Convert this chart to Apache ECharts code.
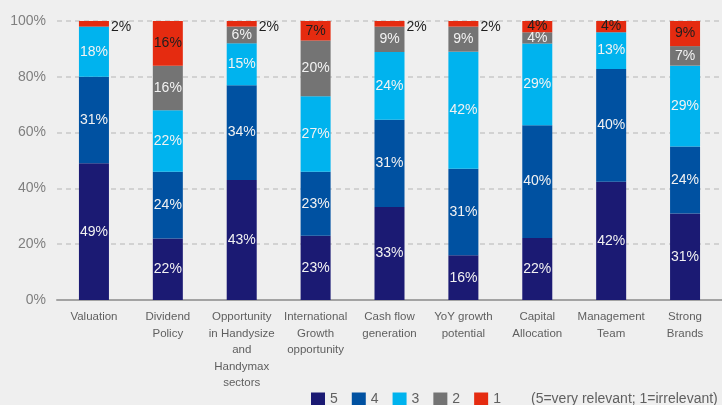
<!DOCTYPE html>
<html>
<head>
<meta charset="utf-8">
<script src="https://cdn.jsdelivr.net/npm/echarts@6/dist/echarts.min.js"></script>
<style>
  html, body { margin: 0; padding: 0; background: #efefef; }
  #chart { width: 722px; height: 405px; }
</style>
</head>
<body>
<div id="chart"></div>
<script>
// Survey factors (x axis)
const categories = [
  'Valuation',
  'Dividend\nPolicy',
  'Opportunity\nin Handysize\nand\nHandymax\nsectors',
  'International\nGrowth\nopportunity',
  'Cash flow\ngeneration',
  'YoY growth\npotential',
  'Capital\nAllocation',
  'Management\nTeam',
  'Strong\nBrands'
];

// Share of respondents per relevance score (%, rounded)
const score5 = [49, 22, 43, 23, 33, 16, 22, 42, 31];
const score4 = [31, 24, 34, 23, 31, 31, 40, 40, 24];
const score3 = [18, 22, 15, 27, 24, 42, 29, 13, 29];
const score2 = [0, 16, 6, 20, 9, 9, 4, 0, 7];
const score1 = [2, 16, 2, 7, 2, 2, 4, 4, 9];

const yTicks = [0, 20, 40, 60, 80, 100];
const legendNote = '(5=very relevant; 1=irrelevant)';

const seriesDefs = [
  { name: '5', values: score5, color: '#1b1a73', text: '#f2f2f2' },
  { name: '4', values: score4, color: '#0051a1', text: '#f2f2f2' },
  { name: '3', values: score3, color: '#00b3ee', text: '#f2f2f2' },
  { name: '2', values: score2, color: '#747474', text: '#f2f2f2' },
  { name: '1', values: score1, color: '#e52b10', text: '#1e1e1e' }
];

// 100% stacked: each column is scaled by its own total
const totals = categories.map((_, i) =>
  seriesDefs.reduce((s, d) => s + d.values[i], 0));

const series = seriesDefs.map(def => ({
  name: def.name,
  type: 'bar',
  stack: 'total',
  barWidth: 30,
  itemStyle: { color: def.color },
  data: def.values.map((v, i) => {
    const item = { value: v / totals[i] * 100, raw: v };
    if (v <= 2) {
      // thin slices get their label beside the bar
      item.label = {
        show: v > 0,
        position: 'right',
        distance: 2,
        offset: [0, 3],
        color: '#1e1e1e'
      };
    }
    return item;
  }),
  label: {
    show: true,
    position: 'inside',
    color: def.text,
    fontSize: 14,
    fontFamily: 'Liberation Sans, Arial, sans-serif',
    formatter: p => (p.data.raw > 0 ? p.data.raw + '%' : '')
  },
  emphasis: { disabled: true }
}));

const chart = echarts.init(document.getElementById('chart'), null, { renderer: 'canvas' });
chart.setOption({
  backgroundColor: '#efefef',
  animation: false,
  grid: { left: 57, right: -6, top: 21, bottom: 105, containLabel: false },
  xAxis: {
    type: 'category',
    data: categories,
    axisTick: { show: false },
    axisLine: { lineStyle: { color: '#a3a3a3', width: 2 } },
    axisLabel: {
      color: '#5f5f5f',
      fontSize: 11.5,
      lineHeight: 16.5,
      margin: 9,
      interval: 0,
      fontFamily: 'Liberation Sans, Arial, sans-serif'
    }
  },
  yAxis: {
    type: 'value',
    min: yTicks[0],
    max: yTicks[yTicks.length - 1],
    interval: yTicks[1] - yTicks[0],
    axisLine: { show: false },
    axisTick: { show: false },
    axisLabel: {
      color: '#7f7f7f',
      fontSize: 14,
      margin: 11,
      fontFamily: 'Liberation Sans, Arial, sans-serif',
      formatter: '{value}%'
    },
    splitLine: {
      lineStyle: { color: '#c9c9c9', type: [5, 4], width: 1.5 }
    }
  },
  legend: {
    data: seriesDefs.map(d => d.name),
    left: 311,
    top: 392,
    itemWidth: 14,
    itemHeight: 13,
    itemGap: 14,
    icon: 'rect',
    textStyle: {
      color: '#606060',
      fontSize: 14,
      fontFamily: 'Liberation Sans, Arial, sans-serif',
      padding: [0, 0, 0, 0]
    },
    padding: 0
  },
  graphic: [{
    type: 'text',
    left: 531,
    top: 392,
    style: {
      text: legendNote,
      fill: '#606060',
      fontSize: 14,
      fontFamily: 'Liberation Sans, Arial, sans-serif'
    }
  }],
  series: series
});
</script>
</body>
</html>
